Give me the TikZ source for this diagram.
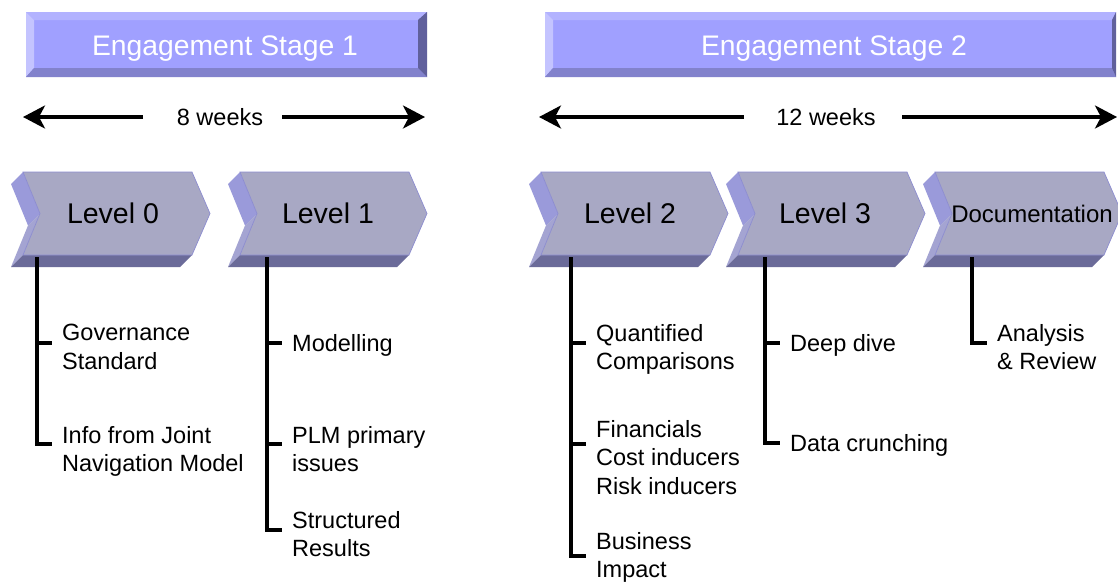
\documentclass[tikz,border=0pt]{standalone}
\usepackage{fontspec}
\setmainfont{Liberation Sans}
\usetikzlibrary{arrows.meta}
\definecolor{barmain}{HTML}{A0A0FF}
\definecolor{bartop}{HTML}{B2B2FF}
\definecolor{barleft}{HTML}{C4C4FF}
\definecolor{barbot}{HTML}{8282CC}
\definecolor{barright}{HTML}{60609C}
\definecolor{chfront}{HTML}{A8A8C4}
\definecolor{chnotch}{HTML}{9A9ADA}
\definecolor{chlow}{HTML}{A4A4D2}
\definecolor{chbot}{HTML}{6B6B99}
\definecolor{chedge}{HTML}{8C8CD0}
\newcommand\mybar[3]{%
 \fill[barmain] (#1,12) rectangle (#2,77);
 \fill[bartop] (#1,12) -- (#2,12) -- ({#2-#3},20) -- ({#1+8},20) -- cycle;
 \fill[barleft] (#1,12) -- ({#1+8},20) -- ({#1+8},68) -- (#1,77) -- cycle;
 \fill[barbot] (#1,77) -- ({#1+8},68) -- ({#2-#3},68) -- (#2,77) -- cycle;
 \fill[barright] (#2,12) -- (#2,77) -- ({#2-#3},68) -- ({#2-#3},20) -- cycle;
}
\newcommand\mychev[1]{%
 \fill[chnotch] (#1,172) -- ({#1+17},213.5) -- ({#1+5},225.5) -- ({#1-12},184) -- cycle;
 \fill[chlow] ({#1+17},213.5) -- (#1,255) -- ({#1-12},267) -- ({#1+5},225.5) -- cycle;
 \fill[chbot] (#1,255) -- ({#1+169},255) -- ({#1+157},267) -- ({#1-12},267) -- cycle;
 \filldraw[fill=chfront, draw=chedge, line width=0.7pt] (#1,172) -- ({#1+169},172) -- ({#1+187},213.5) -- ({#1+169},255) -- (#1,255) -- ({#1+17},213.5) -- cycle;
}
\newcommand\itm[1]{\begin{tabular}[t]{@{}l@{}}#1\end{tabular}}
\tikzset{
 stagetext/.style={anchor=base, inner sep=0pt, text=white, font=\fontsize{28.3}{32}\selectfont},
 lvltext/.style={anchor=base, inner sep=0pt, font=\fontsize{28.5}{32}\selectfont},
 wktext/.style={anchor=base, inner sep=0pt, font=\fontsize{23.5}{28.6}\selectfont},
 item/.style={anchor=base west, inner sep=0pt, font=\fontsize{23.5}{28.6}\selectfont},
 wkarrow/.style={line width=3.3pt, -{Stealth[length=22pt,width=23pt,inset=6pt]}},
 stem/.style={line width=3.3pt, line join=miter},
}
\begin{document}
\begin{tikzpicture}[x=1pt,y=-1pt]
\useasboundingbox (0,0) rectangle (1118,582);
\fill[white] (0,0) rectangle (1118,582);
% stage bars
\mybar{26}{427}{9}
\mybar{545}{1116}{4}
\node[stagetext] (st1) at (225,55) {Engagement Stage 1};
\node[stagetext] (st2) at (834,55) {Engagement Stage 2};
% week arrows
\node[wktext] (wk1) at (220,125) {8 weeks};
\node[wktext] (wk2) at (826,125) {12 weeks};
\coordinate (a1ls) at (143,117); \coordinate (a1le) at (23,117);
\coordinate (a1rs) at (282,117); \coordinate (a1re) at (425,117);
\coordinate (a2ls) at (744,117); \coordinate (a2le) at (539,117);
\coordinate (a2rs) at (902,117); \coordinate (a2re) at (1117,117);
\draw[wkarrow] (a1ls) -- (a1le);
\draw[wkarrow] (a1rs) -- (a1re);
\draw[wkarrow] (a2ls) -- (a2le);
\draw[wkarrow] (a2rs) -- (a2re);
% chevrons
\mychev{23}
\mychev{240}
\mychev{541}
\mychev{738}
\mychev{935}
\node[lvltext] (lv0) at (113,223) {Level 0};
\node[lvltext] (lv1) at (328,223) {Level 1};
\node[lvltext] (lv2) at (630,223) {Level 2};
\node[lvltext] (lv3) at (825,223) {Level 3};
\node[lvltext, font=\fontsize{24}{28}\selectfont] (doc) at (1032,222) {Documentation};
% stems
\coordinate (s0) at (37,257);
\coordinate (s1) at (267,257);
\coordinate (s2) at (571,257);
\coordinate (s3) at (765,257);
\coordinate (s4) at (972,257);
% items
\node[item] (gov) at (62,340.7) {\itm{Governance\\Standard}};
\node[item] (info) at (62,443) {\itm{Info from Joint\\Navigation Model}};
\node[item] (mod) at (292,351) {\itm{Modelling}};
\node[item] (plm) at (292,443) {\itm{PLM primary\\issues}};
\node[item] (str) at (292,528) {\itm{Structured\\Results}};
\node[item] (qc) at (596,341) {\itm{Quantified\\Comparisons}};
\node[item] (fin) at (596,437) {\itm{Financials\\Cost inducers\\Risk inducers}};
\node[item] (bus) at (596,549) {\itm{Business\\Impact}};
\node[item] (dd) at (790,351) {\itm{Deep dive}};
\node[item] (dc) at (790,451) {\itm{Data crunching}};
\node[item] (ar) at (997,341) {\itm{Analysis\\\& Review}};
% tick ends
\coordinate (tgov) at (52,343);
\coordinate (tinfo) at (52,444);
\coordinate (tmod) at (282,343);
\coordinate (tplm) at (282,444);
\coordinate (tstr) at (282,530);
\coordinate (tqc) at (586,343);
\coordinate (tfin) at (586,444);
\coordinate (tbus) at (586,556);
\coordinate (tdd) at (780,343);
\coordinate (tdc) at (780,443);
\coordinate (tar) at (987,343);
\draw[stem] (s0) |- (tgov);
\draw[stem] (s0) |- (tinfo);
\draw[stem] (s1) |- (tmod);
\draw[stem] (s1) |- (tplm);
\draw[stem] (s1) |- (tstr);
\draw[stem] (s2) |- (tqc);
\draw[stem] (s2) |- (tfin);
\draw[stem] (s2) |- (tbus);
\draw[stem] (s3) |- (tdd);
\draw[stem] (s3) |- (tdc);
\draw[stem] (s4) |- (tar);
\end{tikzpicture}
\end{document}
